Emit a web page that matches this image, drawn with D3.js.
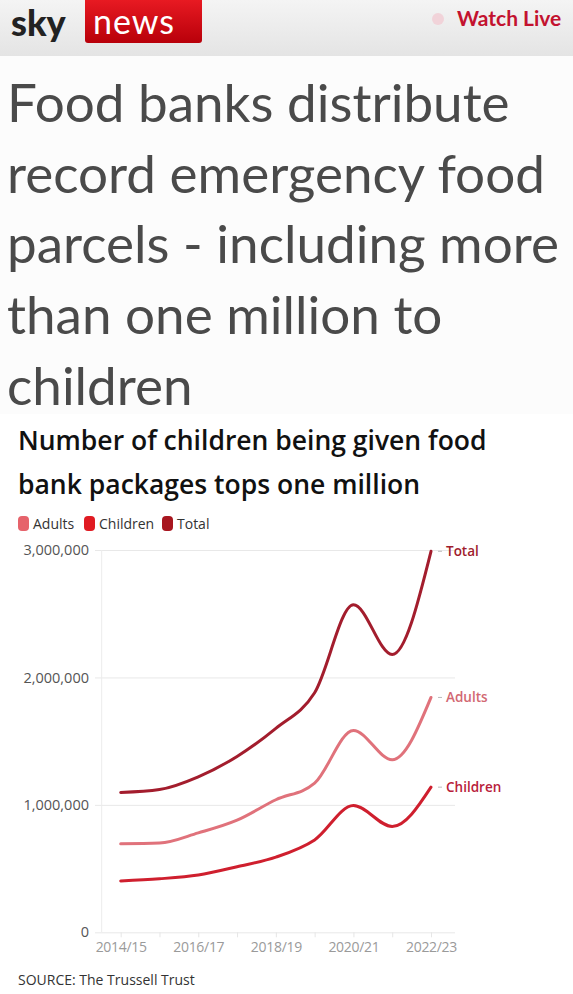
<!DOCTYPE html>
<html>
<head>
<meta charset="utf-8">
<script src="https://cdn.jsdelivr.net/npm/d3@7"></script>
<style>
  body { margin: 0; background: #fff; }
  svg { display: block; }
</style>
</head>
<body>
<svg id="chart"></svg>
<script>
const years = ['2014/15', '2015/16', '2016/17', '2017/18', '2018/19', '2019/20', '2020/21', '2021/22', '2022/23'];
const adults = [694000, 700000, 780000, 880000, 1040000, 1170000, 1584000, 1354000, 1843000];
const children = [403000, 420000, 450000, 515000, 590000, 725000, 995000, 830000, 1139000];
const total = [1097000, 1120000, 1220000, 1380000, 1600000, 1880000, 2570000, 2180000, 2990000];
const xTicks = ['2014/15', '2016/17', '2018/19', '2020/21', '2022/23'];
const yTicks = [0, 1000000, 2000000, 3000000];
const headline = ['Food banks distribute', 'record emergency food', 'parcels - including more', 'than one million to', 'children'];
const titleLines = ['Number of children being given food', 'bank packages tops one million'];

const series = [
	{ name: 'Adults', values: adults, line: '#e0727b', swatch: '#e6636b', label: '#d26873' },
	{ name: 'Children', values: children, line: '#cf1f2e', swatch: '#e01b22', label: '#b8203a' },
	{ name: 'Total', values: total, line: '#a31d2d', swatch: '#a8161f', label: '#a01c2c' }
];

const width = 573;
const height = 994;
const small = '"Open Sans", sans-serif';

const svg = d3.select('#chart')
	.attr('width', width)
	.attr('height', height)
	.attr('viewBox', [0, 0, width, height]);

const defs = svg.append('defs');
const hg = defs.append('linearGradient').attr('id', 'hdr').attr('x1', 0).attr('y1', 0).attr('x2', 0).attr('y2', 1);
hg.append('stop').attr('offset', 0).attr('stop-color', '#f4f4f4');
hg.append('stop').attr('offset', 1).attr('stop-color', '#e4e4e4');
const rg = defs.append('linearGradient').attr('id', 'red').attr('x1', 0).attr('y1', 0).attr('x2', 0).attr('y2', 1);
rg.append('stop').attr('offset', 0).attr('stop-color', '#ec1c24');
rg.append('stop').attr('offset', 1).attr('stop-color', '#b8000a');

// header bar
svg.append('rect').attr('x', 0).attr('y', 0).attr('width', width).attr('height', 56).attr('fill', 'url(#hdr)');
svg.append('rect').attr('x', 0).attr('y', 56).attr('width', width).attr('height', 358).attr('fill', '#fcfcfc');

svg.append('text')
	.attr('x', 11).attr('y', 36)
	.attr('font-family', 'Lato, sans-serif').attr('font-weight', 900)
	.attr('font-size', 36).attr('letter-spacing', 0).attr('fill', '#222')
	.text('sky');
svg.append('rect').attr('x', 85).attr('y', -4).attr('width', 117).attr('height', 47).attr('rx', 3).attr('fill', 'url(#red)');
svg.append('text')
	.attr('x', 134).attr('y', 34).attr('text-anchor', 'middle')
	.attr('font-family', 'Lato, sans-serif').attr('font-weight', 400)
	.attr('font-size', 34).attr('letter-spacing', 1).attr('fill', '#fff')
	.text('news');

svg.append('circle').attr('cx', 438).attr('cy', 19).attr('r', 6).attr('fill', '#f1d3d9');
svg.append('text')
	.attr('x', 457).attr('y', 26)
	.attr('font-family', 'Lato, sans-serif').attr('font-weight', 700)
	.attr('font-size', 21).attr('fill', '#c3122f')
	.text('Watch Live');

// headline
svg.append('g')
	.selectAll('text')
	.data(headline)
	.join('text')
	.attr('x', 7)
	.attr('y', (d, i) => 122 + i * 70.7)
	.attr('font-family', 'Lato, sans-serif')
	.attr('font-size', 53)
	.attr('fill', '#4a4a4a')
	.text(d => d);

// chart title
svg.append('g')
	.selectAll('text')
	.data(titleLines)
	.join('text')
	.attr('x', 18)
	.attr('y', (d, i) => 450 + i * 44)
	.attr('font-family', small)
	.attr('font-weight', 600)
	.attr('font-size', 26.5)
	.attr('fill', '#111')
	.text(d => d);

// legend
const legendX = [18, 84, 162];
const legend = svg.append('g')
	.selectAll('g')
	.data(series)
	.join('g')
	.attr('transform', (d, i) => `translate(${legendX[i]},516)`);
legend.append('rect').attr('width', 11).attr('height', 15).attr('rx', 4).attr('fill', d => d.swatch);
legend.append('text')
	.attr('x', 15).attr('y', 12.5)
	.attr('font-family', small).attr('font-size', 14).attr('fill', '#333')
	.text(d => d.name);

// scales
const x = d3.scalePoint().domain(years).range([120.7, 431]);
const y = d3.scaleLinear().domain([0, 3000000]).range([932.3, 550]);

// y axis / grid
const yAxis = svg.append('g')
	.attr('transform', 'translate(95,0)')
	.call(d3.axisLeft(y).tickValues(yTicks).tickSize(-360).tickPadding(6).tickFormat(d3.format(',')));
yAxis.select('.domain').remove();
yAxis.selectAll('line').attr('stroke', '#e8e8e8');
yAxis.selectAll('text')
	.attr('font-family', small).attr('font-size', 14.5).attr('fill', '#555');

svg.append('line')
	.attr('x1', 101.7).attr('x2', 101.7).attr('y1', 550).attr('y2', 932.3)
	.attr('stroke', '#ececec');

// x axis
const xAxis = svg.append('g')
	.attr('transform', 'translate(0,932.3)')
	.call(d3.axisBottom(x).tickSize(5).tickPadding(5).tickFormat(d => xTicks.includes(d) ? d : ''));
xAxis.select('.domain').remove();
xAxis.selectAll('line').attr('stroke', '#e6e6e6');
xAxis.selectAll('text')
	.attr('font-family', small).attr('font-size', 14).attr('letter-spacing', -0.3).attr('fill', '#9a9a9a');

// lines
const line = d3.line()
	.x((d, i) => x(years[i]))
	.y(d => y(d))
	.curve(d3.curveMonotoneX);

svg.append('g')
	.selectAll('path')
	.data(series)
	.join('path')
	.attr('d', d => line(d.values))
	.attr('fill', 'none')
	.attr('stroke', d => d.line)
	.attr('stroke-width', 3)
	.attr('stroke-linecap', 'round');

// end labels
const last = years.length - 1;
const ends = svg.append('g')
	.selectAll('g')
	.data(series)
	.join('g')
	.attr('transform', d => `translate(${x(years[last])},${y(d.values[last])})`);
ends.append('line').attr('x1', 7).attr('x2', 11).attr('stroke', '#bbb');
ends.append('text')
	.attr('x', 15).attr('y', 5)
	.attr('font-family', small).attr('font-weight', 600)
	.attr('font-size', 13.5).attr('fill', d => d.label)
	.text(d => d.name);

// source
svg.append('text')
	.attr('x', 18).attr('y', 985)
	.attr('font-family', small).attr('font-size', 14).attr('fill', '#333')
	.text('SOURCE: The Trussell Trust');
</script>
</body>
</html>
